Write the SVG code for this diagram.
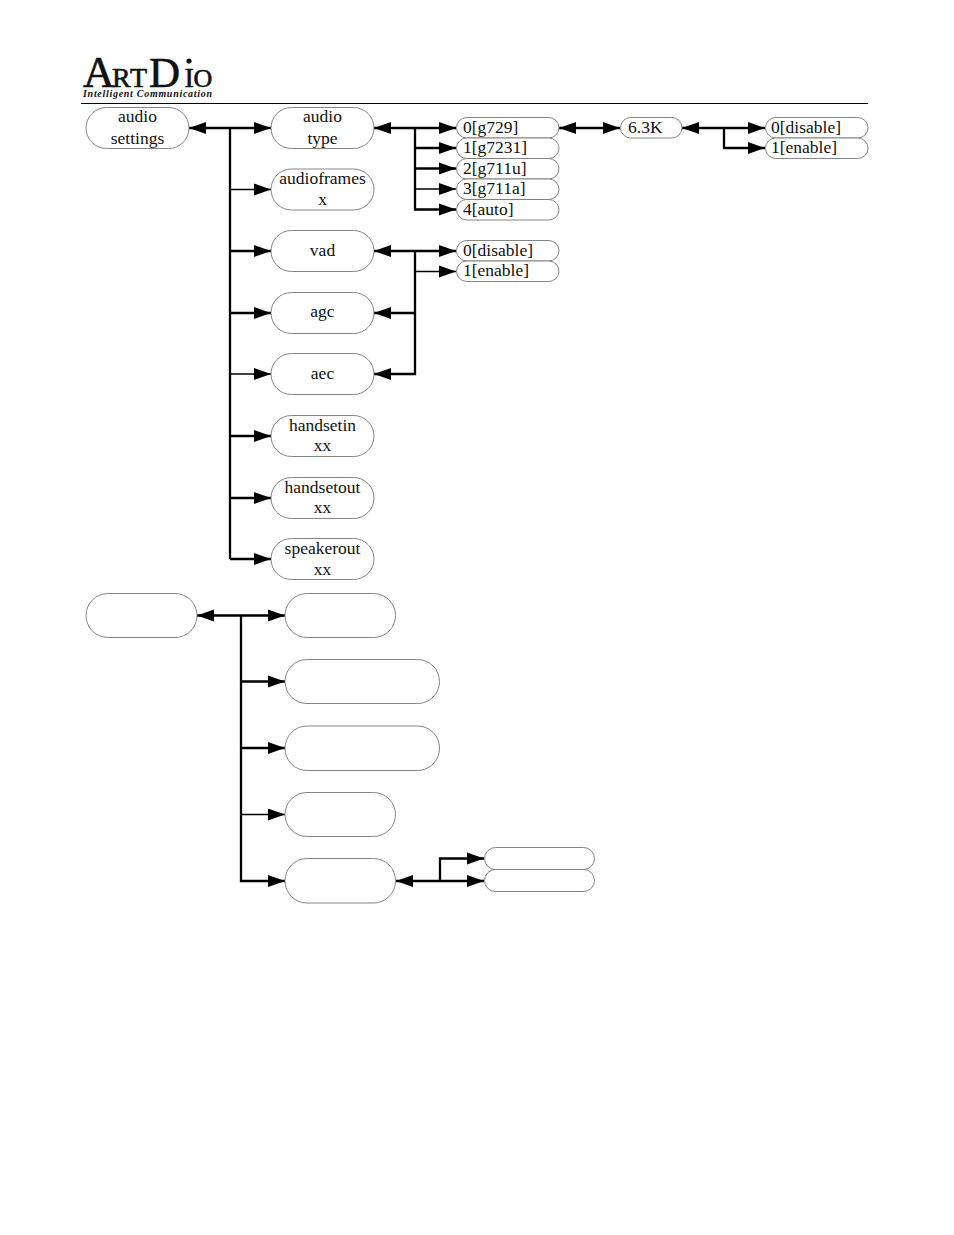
<svg xmlns="http://www.w3.org/2000/svg" width="954" height="1235" viewBox="0 0 954 1235">
<style>
.n{fill:#fff;stroke:#777;stroke-width:.9}
.t{font-family:"Liberation Serif","Times New Roman",serif;font-size:17.5px;fill:#111;text-anchor:middle}
.s{font-family:"Liberation Serif","Times New Roman",serif;font-size:17.5px;fill:#111}
.c{fill:none;stroke:#000;stroke-width:2.3}
.f{fill:none;stroke:#000;stroke-width:1.3}
.h{fill:#000}
</style>
<defs>
<path id="r" class="h" d="M0 0L-17-6V6Z"/>
<path id="l" class="h" d="M0 0L17-6V6Z"/>
</defs>
<rect width="954" height="1235" fill="#fff"/>
<g id="logo">
<text y="86.500" font-family="Liberation Serif,serif" font-size="44" fill="#111" stroke="#111" stroke-width=".6"><tspan x="83">A</tspan><tspan x="112" font-size="28">R</tspan><tspan x="130" font-size="28">T</tspan><tspan x="149" font-size="43">D</tspan><tspan x="184.500" font-size="28">I</tspan><tspan x="193.500" font-size="26">O</tspan></text>
<circle cx="189" cy="61" r="2.600" fill="#111"/>
<text x="83" y="97" font-family="Liberation Serif,serif" font-size="10" font-style="italic" font-weight="bold" fill="#111" textLength="129" lengthAdjust="spacing">Intelligent Communication</text>
<path d="M81 103.500H868" stroke="#000" stroke-width="1"/>
</g>
<g id="connectors">
<path class="c" d="M189 128H271M230 128V559M230 251H271M230 313H271M230 436H271M230 498H271M230 559H271"/>
<path class="f" d="M230 189.500H271M230 374H271"/>
<path class="c" d="M374 128H456M415 128V209.500H456M415 148H456M415 168.500H456"/>
<path class="f" d="M415 189H456"/>
<path class="c" d="M559 128H620M682 128H765M724 128V148H765"/>
<path class="c" d="M374 251H456M415 251V374H374M415 313H374"/>
<path class="f" d="M415 271.500H456"/>
<path class="c" d="M197 615.500H285M241 615.500V881H285M241 681.500H285M241 748H285"/>
<path class="f" d="M241 814.500H285"/>
<path class="c" d="M396 881H484M440 881V858.500H484"/>
<g id="arrowheads">
<use href="#l" x="189" y="128"/><use href="#r" x="271" y="128"/><use href="#r" x="271" y="189.500"/><use href="#r" x="271" y="251"/><use href="#r" x="271" y="313"/><use href="#r" x="271" y="374"/><use href="#r" x="271" y="436"/><use href="#r" x="271" y="498"/><use href="#r" x="271" y="559"/>
<use href="#l" x="374" y="128"/><use href="#r" x="456" y="128"/><use href="#r" x="456" y="148"/><use href="#r" x="456" y="168.500"/><use href="#r" x="456" y="189"/><use href="#r" x="456" y="209.500"/>
<use href="#l" x="559" y="128"/><use href="#r" x="620" y="128"/><use href="#l" x="682" y="128"/><use href="#r" x="765" y="128"/><use href="#r" x="765" y="148"/>
<use href="#l" x="374" y="251"/><use href="#l" x="374" y="313"/><use href="#l" x="374" y="374"/><use href="#r" x="456" y="251"/><use href="#r" x="456" y="271.500"/>
<use href="#l" x="197" y="615.500"/><use href="#r" x="285" y="615.500"/><use href="#r" x="285" y="681.500"/><use href="#r" x="285" y="748"/><use href="#r" x="285" y="814.500"/><use href="#r" x="285" y="881"/>
<use href="#l" x="396" y="881"/><use href="#r" x="484" y="858.500"/><use href="#r" x="484" y="881"/>
</g>
</g>
<g id="audio-settings"><rect class="n" x="86" y="107.500" width="103" height="41" rx="20.500"/><text class="t" x="137.500" y="122">audio</text><text class="t" x="137.500" y="143.500">settings</text></g>
<g id="audio-type"><rect class="n" x="271" y="107.500" width="103" height="41" rx="20.500"/><text class="t" x="322.500" y="122">audio</text><text class="t" x="322.500" y="143.500">type</text></g>
<g id="audioframes"><rect class="n" x="271" y="169" width="103" height="41" rx="20.500"/><text class="t" x="322.500" y="184">audioframes</text><text class="t" x="322.500" y="205">x</text></g>
<g id="vad"><rect class="n" x="271" y="230.500" width="103" height="41" rx="20.500"/><text class="t" x="322.500" y="256">vad</text></g>
<g id="agc"><rect class="n" x="271" y="292.500" width="103" height="41" rx="20.500"/><text class="t" x="322.500" y="317">agc</text></g>
<g id="aec"><rect class="n" x="271" y="353.500" width="103" height="41" rx="20.500"/><text class="t" x="322.500" y="379">aec</text></g>
<g id="handsetin"><rect class="n" x="271" y="415.500" width="103" height="41" rx="20.500"/><text class="t" x="322.500" y="430.500">handsetin</text><text class="t" x="322.500" y="451">xx</text></g>
<g id="handsetout"><rect class="n" x="271" y="477.500" width="103" height="41" rx="20.500"/><text class="t" x="322.500" y="492.500">handsetout</text><text class="t" x="322.500" y="513">xx</text></g>
<g id="speakerout"><rect class="n" x="271" y="538.500" width="103" height="41" rx="20.500"/><text class="t" x="322.500" y="553.500">speakerout</text><text class="t" x="322.500" y="574.500">xx</text></g>
<g id="g729"><rect class="n" x="456.500" y="117.500" width="102.500" height="20.500" rx="10.250"/><text class="s" x="463" y="132.500">0[g729]</text></g>
<g id="g7231"><rect class="n" x="456.500" y="138" width="102.500" height="20.500" rx="10.250"/><text class="s" x="463" y="153">1[g7231]</text></g>
<g id="g711u"><rect class="n" x="456.500" y="158.500" width="102.500" height="20.500" rx="10.250"/><text class="s" x="463" y="173.500">2[g711u]</text></g>
<g id="g711a"><rect class="n" x="456.500" y="179" width="102.500" height="20.500" rx="10.250"/><text class="s" x="463" y="194">3[g711a]</text></g>
<g id="auto"><rect class="n" x="456.500" y="199.500" width="102.500" height="20.500" rx="10.250"/><text class="s" x="463" y="214.500">4[auto]</text></g>
<g id="rate"><rect class="n" x="620.500" y="117.500" width="61.500" height="20.500" rx="10.250"/><text class="s" x="628" y="132.500">6.3K</text></g>
<g id="rate-disable"><rect class="n" x="765.500" y="117.500" width="102.500" height="20.500" rx="10.250"/><text class="s" x="771" y="132.500">0[disable]</text></g>
<g id="rate-enable"><rect class="n" x="765.500" y="138" width="102.500" height="20.500" rx="10.250"/><text class="s" x="771" y="153">1[enable]</text></g>
<g id="vad-disable"><rect class="n" x="456.500" y="240.500" width="102.500" height="20.500" rx="10.250"/><text class="s" x="463" y="255.500">0[disable]</text></g>
<g id="vad-enable"><rect class="n" x="456.500" y="261" width="102.500" height="20.500" rx="10.250"/><text class="s" x="463" y="276">1[enable]</text></g>
<g id="b-root"><rect class="n" x="86" y="593.500" width="111" height="44" rx="22"/></g>
<g id="b-1"><rect class="n" x="285" y="593.500" width="110.500" height="44" rx="22"/></g>
<g id="b-2"><rect class="n" x="285" y="659.500" width="154.500" height="44" rx="22"/></g>
<g id="b-3"><rect class="n" x="285" y="726" width="154.500" height="44.500" rx="22"/></g>
<g id="b-4"><rect class="n" x="285" y="792.500" width="110.500" height="44" rx="22"/></g>
<g id="b-5"><rect class="n" x="285" y="858.500" width="110.500" height="44.500" rx="22"/></g>
<g id="b-6"><rect class="n" x="484.500" y="847.500" width="110" height="22" rx="11"/></g>
<g id="b-7"><rect class="n" x="484.500" y="869.500" width="110" height="22" rx="11"/></g>
</svg>
